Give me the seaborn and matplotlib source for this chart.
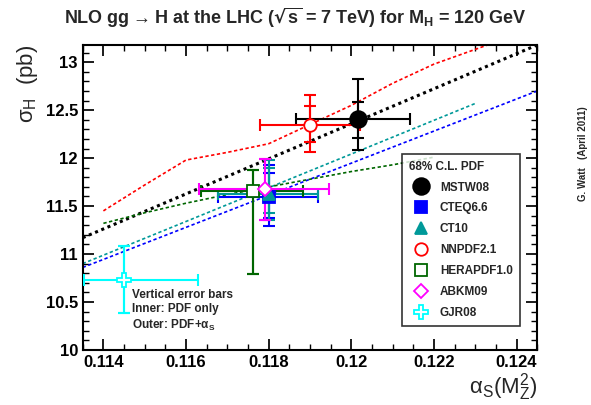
import matplotlib
matplotlib.use("Agg")
import matplotlib.pyplot as plt
import seaborn as sns
from matplotlib.ticker import MultipleLocator

sns.set_theme(style="ticks")
plt.rcParams['font.family'] = ['Liberation Sans', 'DejaVu Sans']
plt.rcParams['font.weight'] = 'bold'
plt.rcParams['mathtext.default'] = 'regular'

names = ["MSTW08", "CTEQ6.6", "CT10", "NNPDF2.1", "HERAPDF1.0", "ABKM09", "GJR08"]
colors = ["black", "blue", "#009999", "red", "#006600", "magenta", "cyan"]
markers = ["o", "s", "^", "o", "s", "D", "P"]
filled = [True, True, True, False, False, False, False]
msizes = [12, 8, 9, 9, 9, 7, 10]
alpha_s = [0.12017, 0.11800, 0.11800, 0.11901, 0.11761, 0.11790, 0.11451]
sigma = [12.41, 11.59, 11.63, 12.35, 11.66, 11.68, 10.73]
x_lo = [0.11867, 0.11678, 0.11678, 0.11780, 0.11637, 0.11632, 0.11352]
x_hi = [0.12141, 0.11920, 0.11920, 0.12020, 0.11882, 0.11947, 0.11628]
y_out_lo = [12.08, 11.29, 11.35, 12.06, 10.79, 11.35, 10.39]
y_out_hi = [12.82, 11.93, 11.98, 12.66, 11.875, 11.99, 11.08]
y_in_lo = [12.21, 11.38, 11.43, 12.17, 10.79, 11.35, 10.39]
y_in_hi = [12.59, 11.85, 11.90, 12.54, 11.875, 11.99, 11.08]

line_x = {
    "MSTW08": [0.1135, 0.1245], "CTEQ6.6": [0.1135, 0.1245], "CT10": [0.1135, 0.1230],
    "NNPDF2.1": [0.1140, 0.1150, 0.1160, 0.1170, 0.1180, 0.1190, 0.1200, 0.1210, 0.1220, 0.1233],
    "HERAPDF1.0": [0.1140, 0.1150, 0.1160, 0.1170, 0.1180, 0.1190, 0.1200, 0.1210, 0.1220],
}
line_y = {
    "MSTW08": [11.17, 13.18], "CTEQ6.6": [10.86, 12.70], "CT10": [10.90, 12.57],
    "NNPDF2.1": [11.45, 11.72, 11.98, 12.06, 12.15, 12.35, 12.55, 12.78, 12.98, 13.18],
    "HERAPDF1.0": [11.32, 11.43, 11.53, 11.62, 11.70, 11.78, 11.86, 11.93, 12.01],
}

fig = plt.figure(figsize=(5.91, 4.05), dpi=100)
ax = fig.add_axes([0.140, 0.136, 0.769, 0.753])

for n, c in zip(names, colors):
    if n in line_x:
        ls = (0, (1, 1.2)) if n == "MSTW08" else (0, (2, 1.5))
        lw = 2.2 if n == "MSTW08" else 1.2
        sns.lineplot(x=line_x[n], y=line_y[n], ax=ax, color=c, lw=lw, linestyle=ls, legend=False)

for i, n in enumerate(names):
    c = colors[i]
    ax.errorbar([alpha_s[i]], [sigma[i]],
                xerr=[[alpha_s[i] - x_lo[i]], [x_hi[i] - alpha_s[i]]],
                yerr=[[sigma[i] - y_out_lo[i]], [y_out_hi[i] - sigma[i]]],
                fmt='none', ecolor=c, elinewidth=1.5, capsize=4, capthick=1.5, zorder=3)
    ax.errorbar([alpha_s[i]], [sigma[i]],
                yerr=[[sigma[i] - y_in_lo[i]], [y_in_hi[i] - sigma[i]]],
                fmt='none', ecolor=c, elinewidth=1.5, capsize=4, capthick=1.5, zorder=3)
    ax.plot([alpha_s[i]], [sigma[i]], marker=markers[i], ms=msizes[i], color=c,
            mfc=c if filled[i] else 'white', mew=1.3, ls='none', label=n, zorder=4)

ax.set_xlim(0.1135, 0.1245)
ax.set_ylim(10, 13.18)
ax.xaxis.set_minor_locator(MultipleLocator(0.0005))
ax.yaxis.set_minor_locator(MultipleLocator(0.1))
ax.set_xticks([0.114, 0.116, 0.118, 0.12, 0.122, 0.124])
ax.set_xticklabels(["0.114", "0.116", "0.118", "0.12", "0.122", "0.124"], weight='bold')
ax.set_yticks([10, 10.5, 11, 11.5, 12, 12.5, 13])
ax.set_yticklabels(["10", "10.5", "11", "11.5", "12", "12.5", "13"], weight='bold')
ax.tick_params(which='both', direction='in', top=True, right=True, labelsize=12, colors='black')
ax.tick_params(which='major', length=8)
ax.tick_params(which='minor', length=4)
for s in ax.spines.values():
    s.set_linewidth(1.5)
    s.set_color('black')

ax.set_xlabel(r"$\alpha_S(M_Z^2)$", fontsize=16, loc='right', labelpad=1)
ax.set_ylabel(r"$\sigma_H$  (pb)", fontsize=16, loc='top', labelpad=4)
fig.text(0.5, 0.955, r"NLO gg$\rightarrow$H at the LHC ($\sqrt{s}$ = 7 TeV) for M$_H$ = 120 GeV",
         ha='center', va='center', fontsize=13, weight='bold')
fig.text(0.995, 0.62, "G. Watt   (April 2011)", rotation=90, ha='right', va='center', fontsize=7)
ax.text(0.1147, 10.64, "Vertical error bars\nInner: PDF only\nOuter: PDF+$\\alpha_S$",
        fontsize=8.5, va='top', linespacing=1.25)

leg = ax.legend(loc='lower right', bbox_to_anchor=(0.975, 0.06), title="68% C.L. PDF",
                fontsize=8.5, title_fontsize=8.5, frameon=True, fancybox=False,
                edgecolor='black', labelspacing=0.75, borderpad=0.6, handletextpad=0.6)
leg.get_frame().set_linewidth(1.2)
leg._legend_box.align = "left"

fig.savefig("out.png", dpi=100)
